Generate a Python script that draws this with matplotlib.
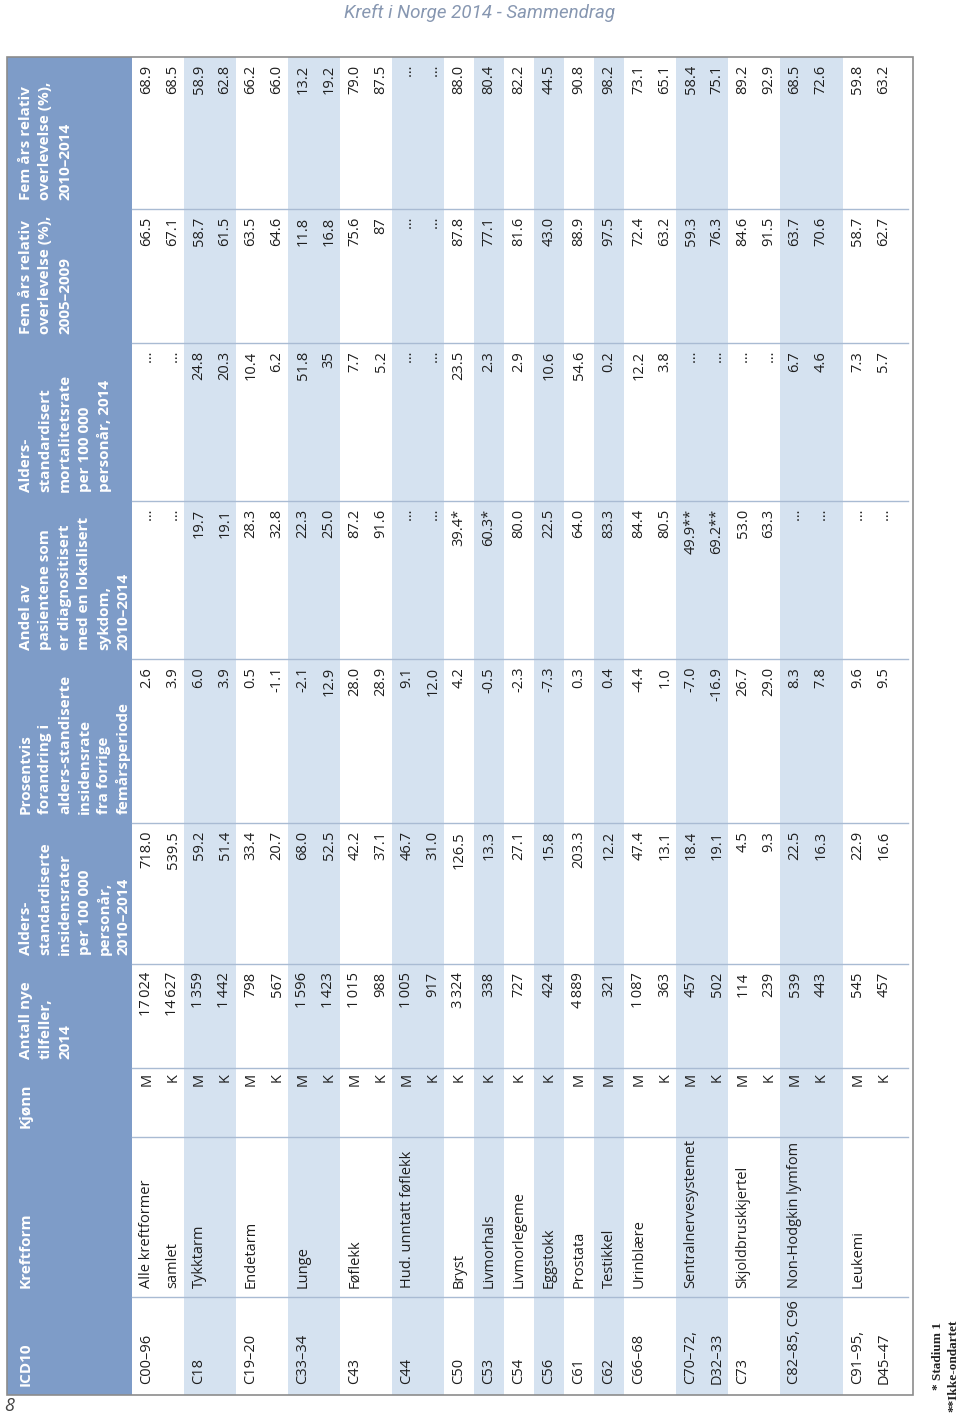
import matplotlib
matplotlib.use("Agg")
import matplotlib.pyplot as plt
from matplotlib.patches import Rectangle

# ---- data (one entry per cancer group) ----
icd = ["C00–96", "C18", "C19–20", "C33–34", "C43", "C44", "C50", "C53", "C54",
       "C56", "C61", "C62", "C66–68", "C70–72,\nD32–33", "C73", "C82–85, C96",
       "C91–95,\nD45–47"]
kreftform = ["Alle kreftformer\nsamlet", "Tykktarm", "Endetarm", "Lunge", "Føflekk",
             "Hud. unntatt føflekk", "Bryst", "Livmorhals", "Livmorlegeme", "Eggstokk",
             "Prostata", "Testikkel", "Urinblære", "Sentralnervesystemet",
             "Skjoldbruskkjertel", "Non-Hodgkin lymfom", "Leukemi"]
kjonn = ["MK", "MK", "MK", "MK", "MK", "MK", "K", "K", "K", "K", "M", "M",
         "MK", "MK", "MK", "MK", "MK"]

# ---- data (one entry per row) ----
E = "…"
antall = ["17\u2009024", "14\u2009627", "1\u2009359", "1\u2009442", "798", "567",
          "1\u2009596", "1\u2009423", "1\u2009015", "988", "1\u2009005", "917",
          "3\u2009324", "338", "727", "424", "4\u2009889", "321", "1\u2009087", "363",
          "457", "502", "114", "239", "539", "443", "545", "457"]
insidens = ["718.0", "539.5", "59.2", "51.4", "33.4", "20.7", "68.0", "52.5", "42.2",
            "37.1", "46.7", "31.0", "126.5", "13.3", "27.1", "15.8", "203.3", "12.2",
            "47.4", "13.1", "18.4", "19.1", "4.5", "9.3", "22.5", "16.3", "22.9", "16.6"]
endring = ["2.6", "3.9", "6.0", "3.9", "0.5", "-1.1", "-2.1", "12.9", "28.0", "28.9",
           "9.1", "12.0", "4.2", "-0.5", "-2.3", "-7.3", "0.3", "0.4", "-4.4", "1.0",
           "-7.0", "-16.9", "26.7", "29.0", "8.3", "7.8", "9.6", "9.5"]
lokalisert = [E, E, "19.7", "19.1", "28.3", "32.8", "22.3", "25.0", "87.2", "91.6",
              E, E, "39.4*", "60.3*", "80.0", "22.5", "64.0", "83.3", "84.4", "80.5",
              "49.9**", "69.2**", "53.0", "63.3", E, E, E, E]
mortalitet = [E, E, "24.8", "20.3", "10.4", "6.2", "51.8", "35", "7.7", "5.2", E, E,
              "23.5", "2.3", "2.9", "10.6", "54.6", "0.2", "12.2", "3.8", E, E, E, E,
              "6.7", "4.6", "7.3", "5.7"]
overlev_0509 = ["66.5", "67.1", "58.7", "61.5", "63.5", "64.6", "11.8", "16.8", "75.6",
                "87", E, E, "87.8", "77.1", "81.6", "43.0", "88.9", "97.5", "72.4",
                "63.2", "59.3", "76.3", "84.6", "91.5", "63.7", "70.6", "58.7", "62.7"]
overlev_1014 = ["68.9", "68.5", "58.9", "62.8", "66.2", "66.0", "13.2", "19.2", "79.0",
                "87.5", E, E, "88.0", "80.4", "82.2", "44.5", "90.8", "98.2", "73.1",
                "65.1", "58.4", "75.1", "89.2", "92.9", "68.5", "72.6", "59.8", "63.2"]

headers = [
    ["ICD10"],
    ["Kreftform"],
    ["Kjønn"],
    ["Antall nye", "tilfeller,", "2014"],
    ["Alders-", "standardiserte", "insidensrater", "per 100 000", "personår,", "2010–2014"],
    ["Prosentvis", "forandring i", "alders-standiserte", "insidensrate", "fra forrige",
     "femårsperiode"],
    ["Andel av", "pasientene som", "er diagnositisert", "med en lokalisert", "sykdom,",
     "2010–2014"],
    ["Alders-", "standardisert", "mortalitetsrate", "per 100 000", "personår, 2014"],
    ["Fem års relativ", "overlevelse (%),", "2005–2009"],
    ["Fem års relativ", "overlevelse (%),", "2010–2014"],
]
numeric_cols = [antall, insidens, endring, lokalisert, mortalitet, overlev_0509, overlev_1014]

# ---- layout (page pixels, the table is printed sideways) ----
W, H = 960, 1415
left, right, top, bottom = 7, 913, 57, 1395
head_right = 132
col_edges = [1395, 1297, 1137, 1068, 964, 823, 659, 501, 343, 209, 57]
pitch = 26
extra_w = {15: 11}

HEAD_BG = "#7e9cc8"
BAND = "#d5e2f0"
SEP = "#a9bbd3"
TXT = "#1e1e1e"
sans = ["Open Sans", "DejaVu Sans"]

fig = plt.figure(figsize=(W / 100, H / 100), dpi=100)
ax = fig.add_axes([0, 0, 1, 1])
ax.set_xlim(0, W)
ax.set_ylim(H, 0)
ax.axis("off")

# groups -> row x positions
row_x = []
row_sex = []
gx = head_right
group_spans = []
for g, sex in enumerate(kjonn):
    n = len(sex)
    w = pitch * n if n > 1 else pitch + 4
    w += extra_w.get(g, 0)
    if g == len(kjonn) - 1:
        w = right - gx
    group_spans.append((gx, w))
    for i, s in enumerate(sex):
        row_x.append(gx + 15 + pitch * i)
        row_sex.append(s)
    gx += w

# shaded bands
for g, (x0, w) in enumerate(group_spans):
    if g % 2 == 1:
        ax.add_patch(Rectangle((x0, top), w, bottom - top, color=BAND, lw=0, zorder=1))

# header strip
ax.add_patch(Rectangle((left, top), head_right - left, bottom - top, color=HEAD_BG,
                       lw=0, zorder=1))

# column separators
for y in col_edges[1:-1]:
    ax.plot([head_right, right - 5], [y, y], color=SEP, lw=1, zorder=2)

# frame
ax.add_patch(Rectangle((left, top), right - left, bottom - top, fill=False,
                       edgecolor="#8c8c8c", lw=1.2, zorder=3))

# header text
for c, lines in enumerate(headers):
    y0 = col_edges[c] - 9
    for i, line in enumerate(lines):
        ax.text(26 + 19.5 * i, y0, line, rotation=90, rotation_mode="anchor",
                ha="left", va="center", color="white", fontsize=11,
                fontweight="bold", family=sans, zorder=4)

# body text
r = 0
for g, sex in enumerate(kjonn):
    for i, line in enumerate(icd[g].split("\n")):
        ax.text(row_x[r + i], col_edges[0] - 11, line, rotation=90,
                rotation_mode="anchor", ha="left", va="center", color=TXT,
                fontsize=10.5, family=sans, zorder=4)
    for i, line in enumerate(kreftform[g].split("\n")):
        ax.text(row_x[r + i], col_edges[1] - 9, line, rotation=90,
                rotation_mode="anchor", ha="left", va="center", color=TXT,
                fontsize=10.5, family=sans, zorder=4)
    r += len(sex)

for k, x in enumerate(row_x):
    ax.text(x, col_edges[3] + 5, row_sex[k], rotation=90, rotation_mode="anchor",
            ha="right", va="center", color=TXT, fontsize=10.5, family=sans, zorder=4)
    for c, vals in enumerate(numeric_cols):
        ax.text(x, col_edges[4 + c] + 8, vals[k], rotation=90, rotation_mode="anchor",
                ha="right", va="center", color=TXT, fontsize=10.5, family=sans,
                zorder=4)

# page furniture
ax.text(480, 13, "Kreft i Norge 2014 - Sammendrag", ha="center", va="center",
        style="italic", color="#8797b1", fontsize=13.5,
        family=["Liberation Sans Narrow", "Roboto"])
ax.text(4, 1406, "8", ha="left", va="center", style="italic", color="#444444",
        fontsize=13, family=sans)
ax.text(938, 1390, "* Stadium 1", rotation=90, rotation_mode="anchor", ha="left",
        va="center", fontsize=9.5, fontweight="bold", family="Liberation Serif",
        color="#222222")
ax.text(953, 1412, "**Ikke-ondartet", rotation=90, rotation_mode="anchor", ha="left",
        va="center", fontsize=9.5, fontweight="bold", family="Liberation Serif",
        color="#222222")

fig.savefig("out.png", dpi=100)
